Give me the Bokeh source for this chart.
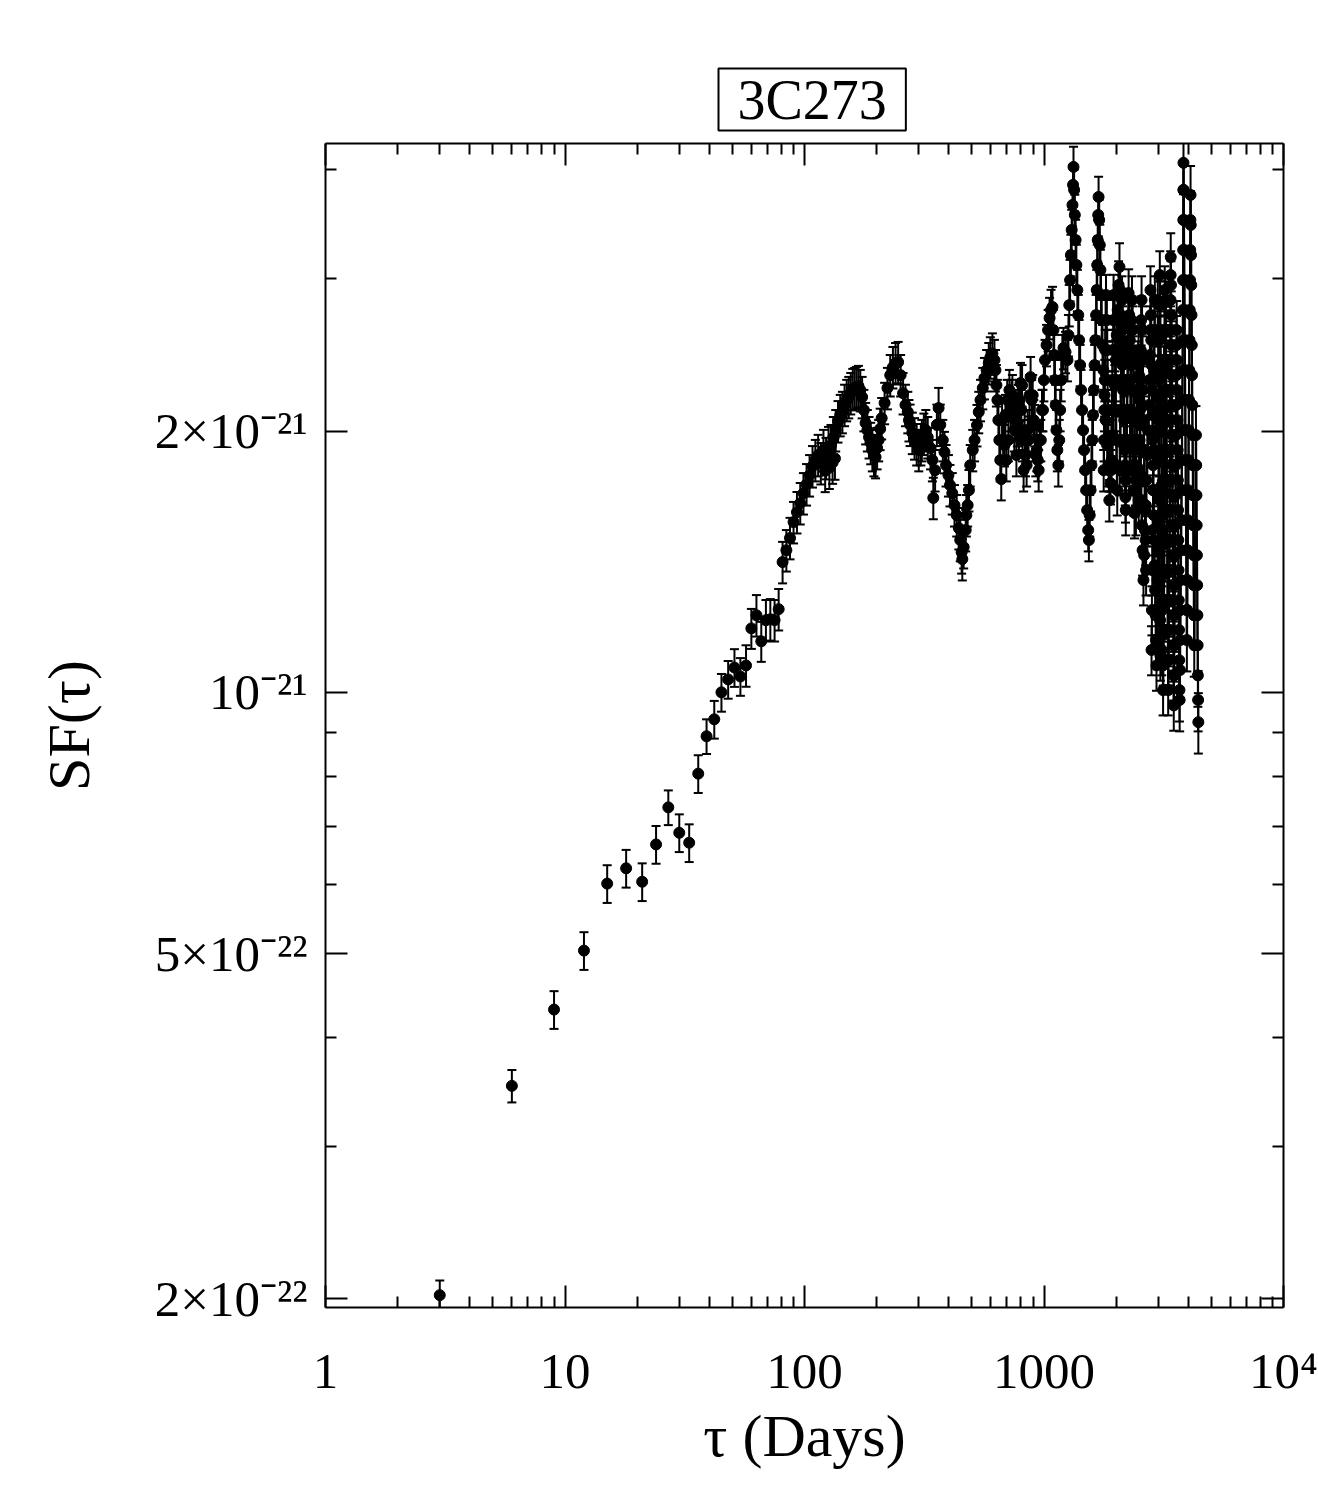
import numpy as np
from bokeh.plotting import figure
from bokeh.models import (ColumnDataSource, Whisker, TeeHead, LogAxis, FixedTicker,
                          Title, Range1d)
from bokeh.embed import file_html
from bokeh.resources import INLINE

# ---------------- data (SF in units of 1e-24) ----------------
SF_UNIT = 1e-24

tau_early = [3, 6, 9, 12, 15, 18, 21, 24, 27, 30, 33, 36, 39, 42, 45, 48, 51, 54,
             57, 60, 63, 66, 69, 72, 75, 78, 81]
sf_early = [202, 352, 431, 504, 602, 627, 605, 668, 737, 689, 671, 806, 890, 931,
            1000, 1035, 1068, 1043, 1074, 1185, 1227, 1145, 1211, 1214, 1211, 1247, 1413]
err_early_pct = [4.0, 4.3, 5.0, 5.0, 5.0, 5.0, 5.0, 5.0, 4.6, 5.0, 5.0, 5.0, 4.6, 5.0,
                 5.0, 5.0, 5.0, 5.0, 5.5, 5.3, 5.5, 5.3, 5.5, 5.5, 5.5, 5.5, 5.5]

tau_mid = [84, 87, 90, 93, 96, 99, 102, 105, 108, 111, 114, 117, 120, 123, 126, 129,
           132, 135, 138, 141, 144, 147, 150, 153, 156, 159, 162, 165, 168, 171, 174,
           177, 180, 183, 186, 189, 192, 195, 198, 201, 204, 207, 210, 216, 222, 228,
           234, 240, 246, 252, 258, 264, 270, 273, 276, 282, 288, 294, 300, 306, 309,
           315, 321, 327, 336, 342, 345, 351, 357, 363, 369, 378, 384, 390, 399, 405,
           414, 423, 432, 441, 447, 453, 456, 462, 471, 474, 480, 486, 492, 504, 513,
           525, 534, 543, 555, 564, 576, 588, 597, 609, 621, 627, 633, 639, 645, 651,
           657, 663, 675, 690, 702, 717, 732, 744, 759, 774, 780, 798, 804, 813, 822,
           837, 855, 870, 879, 897, 915, 933, 942, 960, 981, 999]
sf_mid = [1458, 1506, 1571, 1613, 1652, 1696, 1737, 1779, 1822, 1852, 1877, 1837, 1902,
          1862, 1917, 1927, 1968, 2005, 2053, 2087, 2104, 2144, 2172, 2189, 2212, 2236,
          2242, 2248, 2254, 2230, 2189, 2115, 2043, 2005, 1968, 1938, 1902, 1877, 1867,
          1912, 1953, 2012, 2070, 2155, 2242, 2320, 2370, 2395, 2402, 2320, 2212, 2144,
          2104, 2059, 2034, 1991, 1962, 1932, 1902, 1932, 1953, 1986, 2005, 1968, 1912,
          1852, 1675, 1803, 2034, 2126, 2034, 1953, 1892, 1827, 1779, 1733, 1696, 1643,
          1600, 1546, 1498, 1450, 1424, 1470, 1538, 1600, 1643, 1710, 1827, 1902, 1953,
          2032, 2104, 2172, 2242, 2302, 2351, 2395, 2432, 2457, 2415, 2351, 2259, 2172,
          2059, 1953, 1852, 1761, 1953, 2087, 2172, 2230, 2172, 2115, 2059, 2032, 2143,
          2272, 2115, 1953, 1803, 1877, 2005, 2200, 2308, 2200, 2032, 1902, 1852, 1953,
          2115, 2290]

# secondary points inside the 100-1000 day band
tau_mid_b = [122, 127, 131, 134, 668, 684, 696, 710, 725, 738, 752, 767, 786, 792, 810,
             830, 846, 862, 888, 906, 924, 950, 970, 990]
sf_mid_b = [1800, 1815, 1840, 1860, 2059, 1927, 1852, 1953, 2115, 2200, 2005, 1877,
            2005, 2172, 2259, 2005, 1827, 1953, 2172, 2059, 1877, 1803, 1953, 2115]

tau_late = [1010, 1025, 1040, 1055, 1070, 1085, 1095, 1103, 1111, 1119, 1127, 1137, 1148,
            1158, 1168, 1180, 1193, 1206, 1230, 1253, 1265, 1275, 1285, 1295, 1305, 1315,
            1322, 1328, 1336, 1345, 1355, 1365, 1378, 1390, 1402, 1415, 1428, 1442, 1456,
            1470, 1485, 1500, 1515, 1530, 1540, 1552, 1565, 1578, 1590, 1602, 1614, 1626,
            1638, 1650, 1660, 1668, 1676, 1684, 1690, 1700, 1710, 1720, 1730, 1742, 1755,
            1770, 1790, 1810, 1835, 1862, 1895, 1915, 1935, 1955, 1975, 1995, 2012, 2030,
            2048, 2066, 2080, 2095, 2110, 2125, 2140, 2155, 2168, 2178, 2189, 2200, 2210,
            2220, 2230, 2240, 2250, 2256, 2268, 2282, 2296, 2310, 2324, 2338, 2352, 2366,
            2387, 2400, 2415, 2430, 2445, 2460, 2472, 2481, 2492, 2503, 2515, 2527, 2540,
            2552, 2565, 2580, 2602, 2620, 2640, 2660, 2680, 2700, 2720, 2740, 2755, 2768,
            2776, 2783, 2795, 2805, 2815, 2825, 2835, 2845, 2855, 2865, 2875, 2885, 2895,
            2910, 2925, 2937, 2949, 2960, 2970, 2980, 2990, 3000, 3008, 3015, 3020, 3025,
            3030, 3035, 3040, 3045, 3055, 3062, 3070, 3078, 3085, 3092, 3099, 3106, 3112,
            3118, 3124, 3130, 3136, 3142, 3150, 3158, 3166, 3174, 3182, 3190, 3197, 3203,
            3208, 3212, 3215, 3218, 3221, 3228, 3234, 3240, 3246, 3252, 3258, 3264, 3270,
            3276, 3282, 3288, 3294, 3300, 3310, 3318, 3326, 3334, 3342, 3350, 3356, 3360,
            3364, 3367, 3370, 3373, 3376, 3379, 3382, 3390, 3398, 3406, 3413, 3420, 3427,
            3434, 3441, 3448, 3455, 3462, 3467, 3472, 3477, 3482, 3492, 3500, 3508, 3516,
            3524, 3532, 3540, 3548, 3556, 3564, 3570, 3576, 3580, 3590, 3598, 3606, 3614,
            3622, 3630, 3638, 3646, 3654, 3662, 3670, 3678, 3685, 3695, 3705, 3715, 3725,
            3735, 3745, 3755, 3765, 3775, 3783, 3790, 3797, 3803, 3808, 3813, 3817, 3820,
            3823, 3830, 3838, 3846, 3854, 3862, 3870, 3878, 3886, 3894, 3902, 3910, 3918,
            3926, 3934, 3942, 3950, 3960, 3970, 3980, 3990, 4000, 4010, 4020, 4030, 4040,
            4050, 4060, 4070, 4078, 4085, 4092, 4100, 4110, 4120, 4130, 4140, 4150, 4160,
            4170, 4180, 4190, 4200, 4210, 4220, 4230, 4240, 4250, 4260, 4270, 4280, 4290,
            4300, 4310, 4320, 4330, 4340, 4350, 4360, 4370, 4380, 4390, 4400, 4410]
sf_late = [2415, 2513, 2615, 2700, 2758, 2780, 2615, 2447, 2290, 2143, 2005, 1902, 1827,
           1953, 2115, 2290, 2447, 2493, 2467, 2415, 2580, 2794, 2986, 3191, 3411, 3645,
           3844, 4032, 3793, 3549, 3321, 3108, 2908, 2721, 2546, 2383, 2230, 2115, 2005,
           1902, 1803, 1710, 1622, 1538, 1498, 1600, 1710, 1827, 1953, 2087, 2230, 2383,
           2546, 2721, 2908, 3108, 3321, 3549, 3723, 3502, 3277, 3067, 2870, 2685, 2513,
           2351, 2200, 2059, 1927, 1827, 1742, 1852, 1979, 2115, 2259, 2415, 2580, 2758,
           2947, 3092, 2908, 2721, 2546, 2383, 2230, 2087, 1953, 1827, 1678, 1803, 1953,
           2115, 2290, 2480, 2685, 2885, 2721, 2546, 2383, 2230, 2087, 1953, 1827, 1710,
           1609, 1710, 1827, 1953, 2087, 2230, 2383, 2480, 2320, 2172, 2032, 1902, 1779,
           1665, 1558, 1458, 1347, 1439, 1538, 1643, 1756, 1877, 2005, 2143, 2290, 2447,
           2615, 2908, 2721, 2546, 2383, 2230, 2087, 1953, 1827, 1710, 1600, 1498, 1401,
           1312, 1227, 1149, 1074, 1149, 1244, 1347, 1458, 1579, 1710, 1852, 2005, 2172,
           2351, 2546, 2794, 3026, 2794, 2580, 2383, 2200, 2032, 1877, 1733, 1600, 1477,
           1364, 1260, 1163, 1074, 1006, 1089, 1180, 1277, 1383, 1498, 1622, 1756, 1902,
           2059, 2230, 2415, 2615, 2832, 2615, 2415, 2230, 2059, 1902, 1756, 1622, 1498,
           1383, 1277, 1180, 1089, 1006, 1089, 1180, 1277, 1383, 1498, 1622, 1756, 1902,
           2059, 2230, 2415, 2615, 2832, 3026, 3174, 2947, 2721, 2513, 2320, 2143, 1979,
           1827, 1687, 1558, 1439, 1329, 1227, 1133, 1046, 966, 1046, 1133, 1227, 1329,
           1439, 1558, 1687, 1827, 1979, 2143, 2320, 2513, 2615, 2415, 2230, 2059, 1902,
           1756, 1622, 1498, 1383, 1277, 1180, 1089, 1006, 980, 1061, 1149, 1244, 1347,
           1458, 1579, 1710, 1852, 2005, 2172, 2351, 2546, 2758, 2986, 3234, 3502, 3793,
           4076, 3793, 3502, 3234, 2986, 2758, 2546, 2351, 2172, 2005, 1852, 1710, 1579,
           1458, 1347, 1244, 1149, 1244, 1347, 1458, 1579, 1710, 1852, 2005, 2172, 2351,
           2546, 2758, 2986, 3234, 3502, 3743, 3456, 3191, 2947, 2721, 2513, 2320, 2143,
           1979, 1827, 1687, 1558, 1439, 1329, 1227, 1133, 1227, 1329, 1439, 1558, 1687,
           1827, 1979, 1827, 1687, 1558, 1439, 1329, 1227, 1133, 1046, 980, 924]

# secondary points filling the dense 1700-3200 day band
tau_late_b = [1775, 1781, 1787, 1794, 1801, 1808, 1815, 1830, 1837, 1844, 1851, 1858, 1866,
              1874, 1905, 1912, 1920, 1928, 1936, 1944, 1952, 1972, 1980, 1988, 1996, 2004,
              2014, 2022, 2070, 2078, 2088, 2096, 2104, 2112, 2118, 2132, 2144, 2152, 2162,
              2174, 2184, 2195, 2276, 2286, 2294, 2303, 2314, 2321, 2331, 2345, 2357, 2369,
              2381, 2393, 2407, 2420, 2485, 2495, 2507, 2517, 2523, 2535, 2545, 2555, 2567,
              2578, 2591, 2606, 2617, 2630, 2643, 2656, 2669, 2812, 2822, 2832, 2842, 2852,
              2862, 2872, 2882, 2892, 2902, 2985, 2995, 3005, 3013, 3021, 3029, 3037, 3047,
              3053, 3061, 3102, 3112, 3122, 3132, 3144, 3152, 3162, 3172, 3184, 3192]
sf_late_b = [1803, 1953, 2115, 2290, 2480, 2685, 2870, 2685, 2480, 2290, 2115, 1953, 1803,
             1665, 1803, 1953, 2115, 2290, 2480, 2685, 2870, 2685, 2480, 2290, 2115, 1953,
             1827, 1710, 1803, 1953, 2115, 2290, 2480, 2685, 2832, 2615, 2415, 2230, 2059,
             1902, 1756, 1622, 1803, 1953, 2115, 2290, 2480, 2685, 2832, 2615, 2415, 2230,
             2059, 1902, 1756, 1622, 1665, 1803, 1953, 2115, 2290, 2480, 2685, 2832, 2615,
             2415, 2230, 2059, 1902, 1756, 1622, 1498, 1383, 1119, 1244, 1383, 1538, 1710,
             1902, 2115, 2351, 2615, 2832, 2832, 2546, 2290, 2059, 1852, 1665, 1498, 1347,
             1211, 1103, 1119, 1244, 1383, 1538, 1710, 1902, 2115, 2351, 2615, 2908]

# relative error (%) read per lag range for the dense part
err_break_tau = [84, 1000, 2000, 3500]
err_break_pct = [5.5, 5.5, 6.5, 8.0]

# axes ticks / labels
x_major = [1, 10, 100, 1000, 10000]
x_major_labels = ["1", "10", "100", "1000", "10⁴"]
x_minor = [m * 10 ** d for d in range(4) for m in range(2, 10)]
y_major = [2e-22, 5e-22, 1e-21, 2e-21]
y_major_labels = ["2×10⁻²²", "5×10⁻²²", "10⁻²¹", "2×10⁻²¹"]
y_minor = [3e-22, 4e-22, 6e-22, 7e-22, 8e-22, 9e-22, 3e-21, 4e-21]

# ---------------- assemble ----------------
def seg(t, s):
    n = min(len(t), len(s))
    return list(t[:n]), list(s[:n])

te, se = seg(tau_early, sf_early)
tm, sm = seg(tau_mid, sf_mid)
tmb, smb = seg(tau_mid_b, sf_mid_b)
tm, sm = tm + tmb, sm + smb
tl, sl = seg(tau_late, sf_late)
tb, sb = seg(tau_late_b, sf_late_b)
tl, sl = tl + tb, sl + sb

tau = np.array(te + tm + tl, dtype=float)
sf = np.array(se + sm + sl, dtype=float) * SF_UNIT
pct_dense = np.array(err_break_pct)[np.searchsorted(err_break_tau, np.array(tm + tl), side="right") - 1]
pct = np.concatenate([np.array(err_early_pct[:len(te)]), pct_dense])
err = sf * pct / 100.0

src = ColumnDataSource(dict(x=tau, y=sf, lo=sf - err, hi=sf + err))

FONT = "Liberation Serif"

p = figure(width=1318, height=1486, x_axis_type="log", y_axis_type="log",
           x_range=Range1d(1, 1e4), y_range=Range1d(1.955e-22, 4.29e-21),
           output_backend="svg", toolbar_location=None,
           min_border_left=325, min_border_right=35, min_border_top=143,
           min_border_bottom=179)
p.xgrid.grid_line_color = None
p.ygrid.grid_line_color = None
p.outline_line_color = None
p.background_fill_color = "white"
p.border_fill_color = "white"

p.title = Title(text="3C273", align="left", text_font=FONT, text_font_size="56px",
                text_font_style="normal", text_color="black",
                border_line_color="black", border_line_width=2,
                padding=dict(left=19, right=19, top=0, bottom=0),
                offset=393, standoff=26)

xt = FixedTicker(ticks=x_major, minor_ticks=x_minor)
yt = FixedTicker(ticks=y_major, minor_ticks=y_minor)

def style(ax, labels):
    ax.major_tick_in = 22
    ax.major_tick_out = 0
    ax.minor_tick_in = 11
    ax.minor_tick_out = 0
    ax.axis_line_width = 2
    ax.major_tick_line_width = 2
    ax.minor_tick_line_width = 2
    ax.axis_line_color = "black"
    ax.major_tick_line_color = "black"
    ax.minor_tick_line_color = "black"
    ax.major_label_text_font = FONT
    ax.axis_label_text_font = FONT
    ax.axis_label_text_font_style = "normal"
    ax.axis_label_text_color = "black"
    if labels:
        ax.major_label_text_color = "black"
        ax.major_label_text_font_size = "51px"
        ax.axis_label_text_font_size = "60px"
    else:
        ax.major_label_text_font_size = "2px"
        ax.major_label_text_alpha = 0.0
        ax.major_label_standoff = 0

xa = p.xaxis[0]
ya = p.yaxis[0]
xa.ticker = xt
ya.ticker = yt
style(xa, True)
style(ya, True)
xa.major_label_overrides = {v: l for v, l in zip(x_major, x_major_labels)}
ya.major_label_overrides = {v: l for v, l in zip(y_major, y_major_labels)}
xa.axis_label = "τ (Days)"
ya.axis_label = "SF(τ)"
xa.major_label_standoff = 35
xa.axis_label_standoff = 1
ya.major_label_standoff = 18
ya.axis_label_standoff = 50

top = LogAxis(ticker=FixedTicker(ticks=x_major, minor_ticks=x_minor))
style(top, False)
p.add_layout(top, "above")
right = LogAxis(ticker=FixedTicker(ticks=y_major, minor_ticks=y_minor))
style(right, False)
p.add_layout(right, "right")

whisk = Whisker(source=src, base="x", lower="lo", upper="hi", dimension="height",
                line_color="black", line_width=2,
                upper_head=TeeHead(size=9, line_color="black", line_width=2),
                lower_head=TeeHead(size=9, line_color="black", line_width=2))
p.add_layout(whisk)
p.scatter("x", "y", source=src, size=11, fill_color="black", line_color="black")

open("out.html", "w").write(file_html(p, INLINE))
